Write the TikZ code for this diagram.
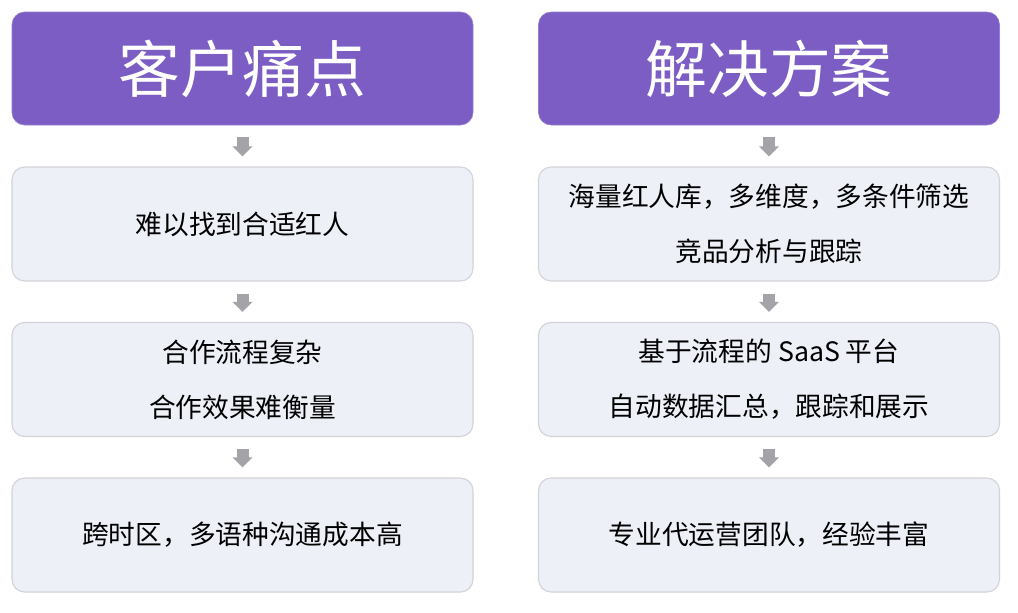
\documentclass[tikz,border=0pt]{standalone}
\usepackage{fontspec}
\setmainfont{Noto Sans CJK SC}
\usetikzlibrary{positioning}
\usetikzlibrary{arrows.meta}
\definecolor{headpurple}{HTML}{7B5DC3}
\definecolor{cellfill}{HTML}{EEF0F8}
\definecolor{celledge}{HTML}{D3D3D9}
\definecolor{arrowgray}{HTML}{A4A4A8}
\tikzset{
    headbox/.style = {rectangle, rounded corners=9pt, draw=headpurple!80!white, fill=headpurple, text=white, minimum width=11.525cm, minimum height=2.825cm, font=\fontsize{44pt}{48pt}\selectfont},
    cellbox/.style = {rectangle, rounded corners=9pt, thick, draw=celledge, fill=cellfill, align=center, minimum width=11.525cm, minimum height=2.85cm, font=\fontsize{19pt}{39pt}\selectfont},
    edgeg/.style = {-{Triangle[width=0.48cm,length=0.25cm]}, line width=0.3cm, arrowgray, shorten <=0.3cm, shorten >=0.25cm}
}
\begin{document}
\begin{tikzpicture}
  \useasboundingbox[fill=white] (0,0) rectangle (25.45,-15.325);
  % left column
  \node[headbox] at (6.0625,-1.7125) (pain) {客户痛点};
  \node[cellbox] at (6.0625,-5.6) (p1) {难以找到合适红人};
  \node[cellbox] at (6.0625,-9.4875) (p2) {合作流程复杂\\合作效果难衡量};
  \node[cellbox] at (6.0625,-13.375) (p3) {跨时区，多语种沟通成本高};
  % right column
  \node[headbox] at (19.225,-1.7125) (sol) {解决方案};
  \node[cellbox] at (19.225,-5.6) (s1) {海量红人库，多维度，多条件筛选\\竞品分析与跟踪};
  \node[cellbox] at (19.225,-9.4875) (s2) {基于流程的 SaaS 平台\\自动数据汇总，跟踪和展示};
  \node[cellbox] at (19.225,-13.375) (s3) {专业代运营团队，经验丰富};

  \draw[edgeg] (pain.south) -- (p1.north);
  \draw[edgeg] (p1.south) -- (p2.north);
  \draw[edgeg] (p2.south) -- (p3.north);
  \draw[edgeg] (sol.south) -- (s1.north);
  \draw[edgeg] (s1.south) -- (s2.north);
  \draw[edgeg] (s2.south) -- (s3.north);
\end{tikzpicture}
\end{document}
